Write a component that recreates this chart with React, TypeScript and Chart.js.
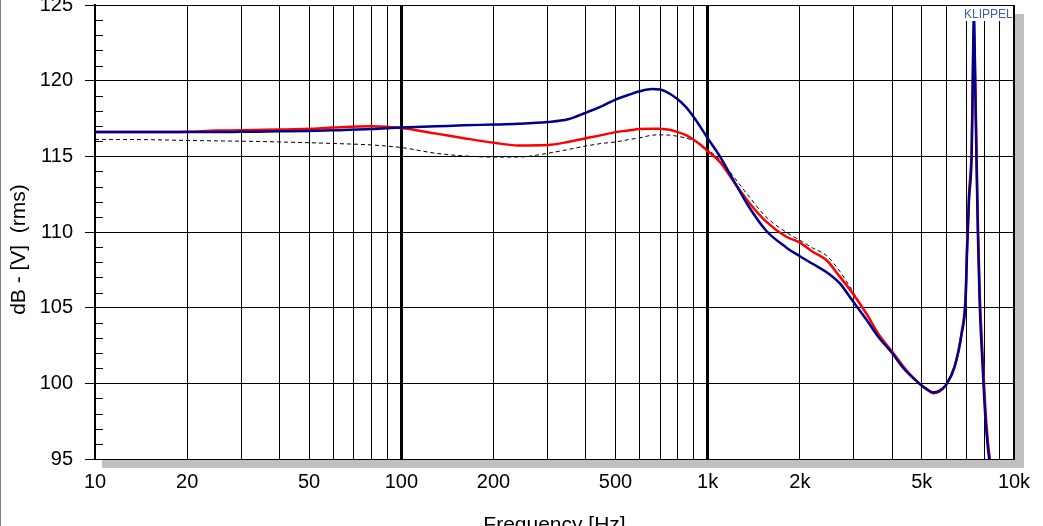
import React, { useEffect, useRef } from "react";
import { Chart, registerables } from "chart.js";

Chart.register(...registerables);

const FONT = "'Liberation Sans', Arial, sans-serif";

// Frequency points (Hz)
const freqs = [
  10, 15, 20, 25, 30, 40, 50, 60, 80, 100, 130, 160, 200, 240, 300, 350, 400, 450, 500, 550,
  600, 660, 700, 750, 800, 850, 900, 950, 1000, 1100, 1200, 1370, 1550, 1800, 2000, 2200, 2440,
  2700, 2960, 3300, 3600, 4000, 4400, 4900, 5200, 5450, 5700, 6000, 6400, 6750, 6950, 7030, 7130,
  7280, 7330, 7400, 7470, 7550, 7620, 7720, 7900, 8060, 8230, 8400, 8600,
];

// Blue curve (dB)
const blueDb = [
  116.6, 116.6, 116.6, 116.6, 116.62, 116.65, 116.68, 116.72, 116.8, 116.9, 116.98, 117.05, 117.1,
  117.15, 117.27, 117.45, 117.88, 118.3, 118.75, 119.05, 119.3, 119.45, 119.42, 119.15, 118.75,
  118.25, 117.6, 116.9, 116.2, 114.95, 113.6, 111.6, 110.1, 109.0, 108.4, 107.9, 107.35, 106.6,
  105.5, 104.2, 103.1, 102.0, 100.9, 100.0, 99.6, 99.4, 99.5, 99.9, 101.1, 103.3, 105.5, 108.8,
  112.1, 115.4, 119.8, 124.5, 119.8, 114.3, 110.0, 105.5, 101.1, 97.8, 95.6, 94.2, 92.0,
];

// Red curve (dB)
const redDb = [
  116.6, 116.6, 116.62, 116.7, 116.72, 116.77, 116.82, 116.9, 116.98, 116.87, 116.5, 116.2, 115.9,
  115.72, 115.75, 115.95, 116.2, 116.4, 116.6, 116.7, 116.8, 116.83, 116.82, 116.75, 116.6, 116.4,
  116.1, 115.75, 115.35, 114.6, 113.5, 111.9, 110.7, 109.7, 109.3, 108.7, 108.15, 107.05, 106.0,
  104.6, 103.3, 102.1, 101.0, 100.0, 99.6, 99.35, 99.45, 99.9, 101.1, 103.4, 105.8, 109.2, 112.5,
  115.8, 119.5, 123.3, 120.3, 115.0, 110.8, 106.3, 101.8, 98.4, 96.0, 94.5, 92.3,
];

// Dashed black curve (dB)
const dashedDb = [
  116.12, 116.1, 116.05, 116.02, 116.0, 115.95, 115.9, 115.85, 115.75, 115.58, 115.2, 115.03,
  114.95, 114.95, 115.2, 115.45, 115.68, 115.85, 115.95, 116.1, 116.22, 116.4, 116.42, 116.4,
  116.32, 116.2, 116.05, 115.8, 115.45, 114.75, 113.8, 112.3, 111.0, 110.0, 109.45, 108.95, 108.45,
  107.4, 106.15, 104.6, 103.3, 102.1, 101.0, 100.0, 99.6, 99.35, 99.45, 99.9, 101.1, 103.4, 105.8,
  109.2, 112.5, 115.8, 119.5, 123.3, 120.3, 115.0, 110.8, 106.3, 101.8, 98.4, 96.0, 94.5, 92.3,
];

// Axis ticks
const xGridTicks = [
  10, 20, 30, 40, 50, 60, 70, 80, 90, 100, 200, 300, 400, 500, 600, 700, 800, 900, 1000, 2000,
  3000, 4000, 5000, 6000, 7000, 8000, 9000, 10000,
];
const xLabelValues = [10, 20, 50, 100, 200, 500, 1000, 2000, 5000, 10000];
const xLabelTexts = ["10", "20", "50", "100", "200", "500", "1k", "2k", "5k", "10k"];
const yTicks = [95, 100, 105, 110, 115, 120, 125];
const yMinorTicks = [
  96, 97, 98, 99, 101, 102, 103, 104, 106, 107, 108, 109, 111, 112, 113, 114, 116, 117, 118, 119,
  121, 122, 123, 124,
];

const xTitle = "Frequency [Hz]";
const yTitle = "dB - [V]  (rms)";
const brand = "KLIPPEL";

const decorPlugin = {
  id: "decor",
  beforeDraw(chart: any) {
    const { ctx, chartArea: a } = chart;
    ctx.save();
    ctx.fillStyle = "#ffffff";
    ctx.fillRect(0, 0, chart.width, chart.height);
    ctx.fillStyle = "#c0c0c0";
    ctx.fillRect(a.left + 7, a.top + 9, a.right - a.left + 3, a.bottom - a.top);
    ctx.fillStyle = "#ffffff";
    ctx.fillRect(a.left, a.top, a.right - a.left, a.bottom - a.top);
    ctx.fillStyle = "#808080";
    ctx.fillRect(0, 0, 1, chart.height);
    ctx.restore();
  },
  afterDraw(chart: any) {
    const { ctx, chartArea: a } = chart;
    const y = chart.scales.y;
    ctx.save();
    ctx.strokeStyle = "#000";
    ctx.lineWidth = 1;
    ctx.beginPath();
    for (const v of yMinorTicks) {
      const py = Math.round(y.getPixelForValue(v)) + 0.5;
      ctx.moveTo(a.left, py);
      ctx.lineTo(a.left + 8, py);
    }
    ctx.stroke();
    // brand box
    ctx.fillStyle = "#ffffff";
    ctx.fillRect(a.right - 54, a.top + 1, 52, 15);
    ctx.fillStyle = "#3d5fa8";
    ctx.font = `12px ${FONT}`;
    ctx.textAlign = "left";
    ctx.textBaseline = "alphabetic";
    ctx.fillText(brand, a.right - 50, a.top + 13);
    ctx.restore();
  },
};

export default function App() {
  const ref = useRef<HTMLCanvasElement | null>(null);

  useEffect(() => {
    if (!ref.current) return;
    const mk = (arr: number[]) => freqs.map((f, i) => ({ x: f, y: arr[i] }));
    const chart = new Chart(ref.current, {
      type: "line",
      data: {
        datasets: [
          {
            label: "blue",
            data: mk(blueDb),
            borderColor: "#00008c",
            borderWidth: 2.5,
            pointRadius: 0,
            cubicInterpolationMode: "monotone",
            fill: false,
          },
          {
            label: "red",
            data: mk(redDb),
            borderColor: "#ff0000",
            borderWidth: 2.5,
            pointRadius: 0,
            cubicInterpolationMode: "monotone",
            fill: false,
          },
          {
            label: "dashed",
            data: mk(dashedDb),
            borderColor: "#000000",
            borderWidth: 1,
            borderDash: [4, 3],
            pointRadius: 0,
            cubicInterpolationMode: "monotone",
            fill: false,
          },
        ],
      },
      options: {
        animation: false,
        responsive: false,
        maintainAspectRatio: false,
        layout: { padding: { top: 5, right: 29, left: 0, bottom: 0 } },
        plugins: { legend: { display: false }, tooltip: { enabled: false } },
        scales: {
          x: {
            type: "logarithmic",
            min: 10,
            max: 10000,
            afterBuildTicks: (s: any) => {
              s.ticks = xGridTicks.map((v) => ({ value: v }));
            },
            afterFit: (s: any) => {
              s.height = 67;
              s.paddingLeft = 0;
              s.paddingRight = 0;
            },
            ticks: {
              autoSkip: false,
              maxRotation: 0,
              minRotation: 0,
              padding: 11,
              color: "#000",
              font: { family: FONT, size: 20 },
              callback: (v: any) => {
                const i = xLabelValues.indexOf(Number(v));
                return i >= 0 ? xLabelTexts[i] : "";
              },
            },
            grid: {
              color: "#000",
              drawTicks: false,
              lineWidth: (c: any) => {
                const v = c.tick ? c.tick.value : 0;
                if (v === 100 || v === 1000) return 3;
                if (v === 10000) return 2;
                return 1;
              },
            },
            border: { display: true, color: "#000", width: 1 },
            title: {
              display: true,
              text: xTitle,
              color: "#000",
              font: { family: FONT, size: 21 },
              padding: { top: 0, bottom: -12 },
            },
          },
          y: {
            type: "linear",
            min: 95,
            max: 125,
            afterBuildTicks: (s: any) => {
              s.ticks = yTicks.map((v) => ({ value: v }));
            },
            afterFit: (s: any) => {
              s.width = 95;
              s.paddingTop = 0;
              s.paddingBottom = 0;
            },
            ticks: {
              padding: 12,
              color: "#000",
              font: { family: FONT, size: 20 },
              callback: (v: any) => String(v),
            },
            grid: {
              color: "#000",
              lineWidth: 1,
              drawTicks: true,
              tickLength: 10,
              tickColor: "#000",
            },
            border: { display: true, color: "#000", width: 2 },
            title: {
              display: true,
              text: yTitle + "      ",
              color: "#000",
              font: { family: FONT, size: 21 },
              padding: { top: 7, bottom: 0 },
            },
          },
        },
      },
      plugins: [decorPlugin],
    } as any);
    return () => chart.destroy();
  }, []);

  return (
    <div style={{ position: "absolute", left: 0, top: 0, width: 1043, height: 526 }}>
      <canvas ref={ref} width={1043} height={526} style={{ display: "block" }} />
    </div>
  );
}
